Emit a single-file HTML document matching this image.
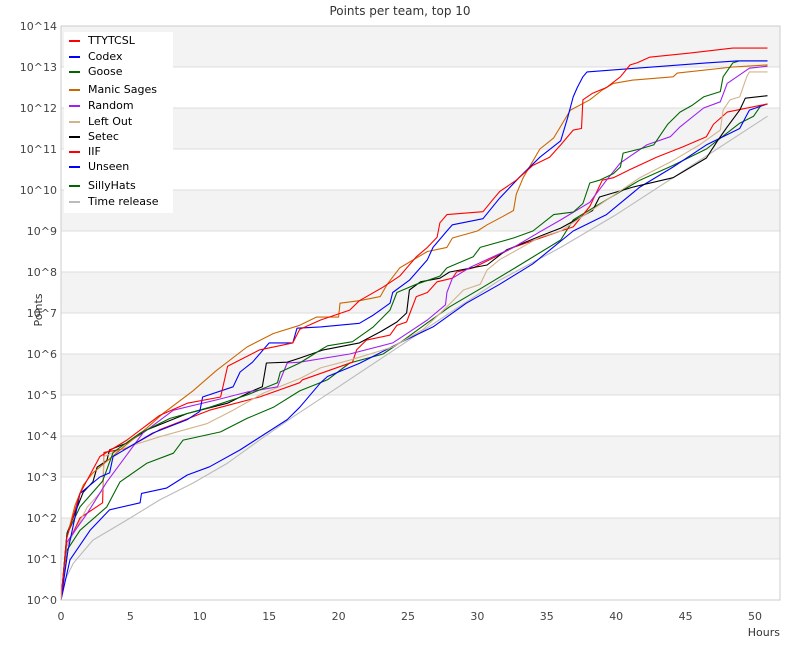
<!DOCTYPE html>
<html><head><meta charset="utf-8"><style>
body{margin:0;background:#fff;}
svg{display:block;font-family:"DejaVu Sans","Liberation Sans",sans-serif;}
</style></head><body>
<svg id="chart" width="800" height="650" viewBox="0 0 800 650" xmlns="http://www.w3.org/2000/svg">
<text x="400" y="15" text-anchor="middle" font-size="12" fill="#333">Points per team, top 10</text>
<g id="bands"></g><g id="yticks"></g><g id="xticks"></g><g id="series"></g>
<rect x="61" y="26" width="719" height="574" fill="none" stroke="#ccc"/>
<text transform="translate(42,310) rotate(-90)" text-anchor="middle" font-size="11" fill="#333">Points</text>
<text x="780" y="636" text-anchor="end" font-size="11" fill="#333">Hours</text>
<g id="legend"></g>
</svg>
<script>
const seriesNames=["TTYTCSL","Codex","Goose","Manic Sages","Random","Left Out","Setec","IIF","Unseen","SillyHats","Time release"];
const seriesColors=["#f00","#00f","#060","#c60","#a020f0","#d2b48c","#000","#f00","#00f","#060","#bbb"];
const yTickExps=[0,1,2,3,4,5,6,7,8,9,10,11,12,13,14];
const xTickVals=[0,5,10,15,20,25,30,35,40,45,50];
const ttytcsl=[[0,0],[0.4,1.5],[1.37,2.6],[2.8,3.5],[4.75,3.9],[7.1,4.5],[9.1,4.8],[11.5,4.95],[12,5.7],[14.3,6.1],[16.7,6.27],[17.2,6.6],[18.7,6.83],[20.8,7.07],[21.5,7.3],[23.2,7.63],[24.4,7.9],[25.6,8.37],[26.4,8.6],[27.1,8.85],[27.3,9.2],[27.8,9.4],[30.4,9.47],[31.1,9.76],[31.6,9.96],[32.8,10.24],[34,10.6],[35.2,10.8],[36,11.1],[36.9,11.46],[37.5,11.5],[37.6,12.2],[38.3,12.36],[39.3,12.5],[40.3,12.76],[41,13.05],[41.5,13.1],[42.4,13.24],[45.3,13.34],[48.4,13.46],[50.9,13.46]];
const codex=[[0,0],[0.5,1.2],[1.37,2.6],[2.8,3.0],[3.5,3.1],[3.75,3.5],[4.75,3.7],[6.6,4.07],[9.1,4.4],[10,4.6],[10.2,4.95],[12.4,5.2],[12.9,5.56],[13.8,5.8],[15,6.27],[16.7,6.27],[17,6.63],[18.7,6.66],[21.5,6.75],[22.5,6.95],[23.7,7.24],[23.9,7.5],[25.1,7.8],[26.4,8.3],[26.8,8.6],[27.8,9.0],[28.2,9.15],[30.4,9.3],[31.6,9.8],[33,10.3],[34.5,10.8],[36,11.2],[36.5,11.76],[36.9,12.27],[37.2,12.5],[37.6,12.76],[37.9,12.88],[46.5,13.1],[48.7,13.15],[50.9,13.15]];
const goose=[[0,0],[0.43,1.6],[1.37,2.27],[3,2.9],[3.75,3.6],[5.7,4.07],[7.85,4.43],[10.7,4.7],[13.4,5.0],[15.6,5.3],[15.8,5.56],[17.2,5.78],[18.7,6.1],[19.2,6.2],[21,6.3],[22.5,6.66],[23.7,7.07],[24.2,7.5],[25.6,7.7],[27.3,7.9],[27.8,8.1],[29.7,8.37],[30.2,8.6],[32.6,8.83],[34,9.0],[35.5,9.4],[36.9,9.46],[37.6,9.67],[38.1,10.17],[38.8,10.24],[39.8,10.4],[40.3,10.56],[40.5,10.9],[41.7,11.0],[42.7,11.1],[43.7,11.6],[44.6,11.9],[45.5,12.07],[46.3,12.27],[47.5,12.4],[47.7,12.76],[48.4,13.1],[48.9,13.15],[50.9,13.15]];
const manic=[[0,0],[0.4,1.5],[1,2.3],[1.6,2.8],[2.3,3.1],[4.75,3.8],[6.2,4.2],[7.35,4.55],[9.5,5.1],[11.2,5.6],[13.4,6.17],[15.3,6.5],[17.2,6.7],[18.4,6.9],[20,6.9],[20.1,7.24],[21.5,7.3],[23,7.4],[23.5,7.7],[24.4,8.1],[26.4,8.5],[27.8,8.6],[28.2,8.83],[30,9.0],[30.7,9.15],[31.8,9.35],[32.6,9.5],[32.8,9.9],[33.3,10.3],[34.5,11.0],[35.5,11.27],[36.7,11.95],[38.1,12.2],[39,12.44],[39.8,12.6],[41.2,12.68],[44.1,12.76],[44.4,12.85],[48.4,13.0],[50.9,13.05]];
const random=[[0,0],[0.4,1.4],[1.9,2.12],[3.3,2.88],[5.9,4.07],[8.1,4.63],[11.2,4.88],[13.4,5.07],[15.6,5.2],[16.3,5.78],[17.2,5.8],[20.8,6.0],[23.9,6.27],[25.1,6.54],[26.4,6.83],[27.7,7.2],[27.8,7.5],[28.2,7.85],[29.5,8.12],[32.6,8.6],[34.5,8.98],[36,9.27],[38.1,9.7],[39.3,10.24],[40.3,10.66],[42.2,11.1],[43.9,11.3],[44.6,11.54],[46.3,12.0],[47.5,12.15],[48,12.6],[49.6,12.97],[50.9,13.02]];
const leftOut=[[0,0],[0.4,1.3],[1.9,2.27],[3,2.68],[3.1,3.5],[4.75,3.73],[7.1,3.98],[10.5,4.3],[12.4,4.63],[14.6,5.05],[17.2,5.4],[18.7,5.66],[20.8,5.85],[23.9,6.17],[26.1,6.6],[27.8,7.15],[29,7.56],[30.2,7.7],[30.7,8.05],[31.6,8.3],[34.5,8.85],[36,9.0],[41.7,10.3],[44,10.7],[46,11.1],[47.5,11.46],[47.7,11.95],[48.2,12.2],[48.9,12.27],[49.4,12.76],[49.6,12.88],[50.9,12.88]];
const setec=[[0,0],[0.43,1.63],[1.6,2.63],[2.3,2.88],[2.6,3.24],[3.3,3.4],[3.5,3.66],[4.75,3.83],[6.2,4.15],[9.1,4.55],[12,4.8],[13.8,5.1],[14.5,5.2],[14.8,5.78],[16.3,5.8],[17.2,5.9],[18.9,6.1],[21.5,6.27],[23,6.54],[24.2,6.78],[24.9,7.0],[25.1,7.56],[25.9,7.76],[27.3,7.85],[28,8.0],[30.7,8.17],[32.1,8.54],[34.7,8.9],[36,9.07],[38.3,9.5],[38.8,9.83],[41.2,10.07],[44.1,10.3],[46.5,10.78],[47.3,11.2],[48,11.54],[48.9,11.95],[49.3,12.24],[50.9,12.3]];
const iif=[[0,0],[0.4,1.3],[1.37,2.0],[3,2.37],[3.1,3.6],[4.75,3.7],[7.1,4.15],[10.7,4.63],[14.3,4.95],[17.2,5.3],[17.4,5.37],[21,5.8],[21.3,6.1],[22,6.34],[23.7,6.46],[24.2,6.7],[24.9,6.78],[25.6,7.4],[26.4,7.5],[27.1,7.76],[28.2,7.85],[28.5,8.0],[29.7,8.1],[31.1,8.34],[32.6,8.6],[36,9.0],[36.9,9.1],[38.1,9.6],[39,10.24],[39.8,10.3],[41,10.5],[42.9,10.8],[44.8,11.05],[46.5,11.3],[47,11.6],[48,11.9],[50.9,12.1]];
const unseen=[[0,0],[0.65,0.98],[2.1,1.7],[3.5,2.2],[5.7,2.37],[5.8,2.6],[7.6,2.73],[9.1,3.05],[10.7,3.25],[12.9,3.66],[16.3,4.4],[17.2,4.7],[18.7,5.3],[19.2,5.45],[21.5,5.77],[24.4,6.27],[26.8,6.66],[29.2,7.24],[31.6,7.7],[34,8.2],[36.9,9.0],[39.3,9.4],[41.7,10.07],[44.1,10.56],[46.5,11.1],[48.9,11.5],[49.6,11.95],[50.9,12.1]];
const sillyHats=[[0,0],[0.4,1.2],[1.37,1.7],[3.3,2.27],[4.25,2.88],[6.2,3.34],[8.1,3.58],[8.8,3.9],[11.5,4.1],[13.4,4.43],[15.3,4.7],[17.2,5.1],[19.2,5.37],[20.8,5.78],[23.2,6.0],[24.4,6.27],[26.4,6.76],[28,7.15],[30.4,7.63],[32.8,8.12],[36,8.78],[36.9,9.27],[39.3,9.76],[41.7,10.24],[44.1,10.6],[46.5,11.0],[48.9,11.63],[49.9,11.8],[50.4,12.05],[50.9,12.1]];
const timeRelease=[[0,0],[0.3,0.5],[0.89,0.9],[2.3,1.46],[4.75,1.95],[7.1,2.44],[9.5,2.85],[12,3.34],[14.3,3.9],[16.7,4.46],[20,5.2],[24,6.1],[28,7.0],[31.6,7.8],[36,8.6],[40,9.4],[45,10.5],[50.9,11.8]];
const allSeries=[ttytcsl,codex,goose,manic,random,leftOut,setec,iif,unseen,sillyHats,timeRelease];

const NS="http://www.w3.org/2000/svg";
const X0=61,X1=780,Y0=600,Y1=26,pxPerHour=13.88;
function xScale(h){return X0+h*pxPerHour;}
function yScale(e){return Y0-(Y0-Y1)*e/14;}
function mk(tag,attrs,parent){const el=document.createElementNS(NS,tag);for(const k in attrs)el.setAttribute(k,attrs[k]);parent.appendChild(el);return el;}

const bands=document.getElementById('bands');
for(let i=0;i<14;i++){
  if(i%2===1){
    const r=mk('rect',{x:X0,y:yScale(i+1),width:X1-X0,height:yScale(i)-yScale(i+1),fill:'#f3f3f3'},bands);
    
    
  }
}
const yt=document.getElementById('yticks');
yTickExps.forEach(e=>{
  const l=mk('line',{x1:X0,x2:X1,y1:yScale(e),y2:yScale(e),stroke:'#ddd'},yt);
  
  
  const t=mk('text',{x:X0-4,y:yScale(e)+4,'text-anchor':'end','font-size':'11',fill:'#444'},yt);
  t.textContent='10^'+e;
  
  
});
const xt=document.getElementById('xticks');
xTickVals.forEach(v=>{
  const t=mk('text',{x:xScale(v),y:620,'text-anchor':'middle','font-size':'11',fill:'#444'},xt);
  t.textContent=String(v);
  
  
});
const sg=document.getElementById('series');
for(let i=allSeries.length-1;i>=0;i--){
  const pts=allSeries[i].map(p=>xScale(p[0]).toFixed(1)+','+yScale(p[1]).toFixed(1)).join(' ');
  const pl=mk('polyline',{points:pts,fill:'none',stroke:seriesColors[i],'stroke-width':'1.1','stroke-linejoin':'round'},sg);
  
  
}
const lg=document.getElementById('legend');
const lbg=mk('rect',{x:64,y:32,width:109,height:181,fill:'#fff'},lg);


const legendY=[40,56,71,89,105,121,136,151,166,185,201];
seriesNames.forEach((n,i)=>{
  const g=mk('g',{},lg);
  
  
  mk('line',{x1:69,x2:80,y1:legendY[i]+1,y2:legendY[i]+1,stroke:seriesColors[i],'stroke-width':'2'},g);
  const t=mk('text',{x:88,y:legendY[i]+4,'font-size':'11',fill:'#000'},g);
  t.textContent=n;
});
</script>
</body></html>
